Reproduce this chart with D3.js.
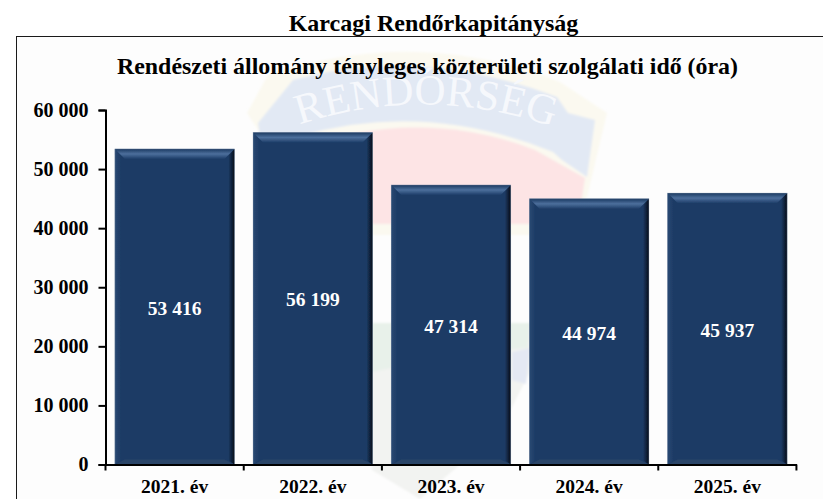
<!DOCTYPE html>
<meta charset="utf-8">
<style>
body { margin: 0; background: #fff; overflow: hidden; }
text { font-family: "Liberation Serif", serif; font-weight: bold; fill: #000; }
</style>
<body>
<svg id="chart" width="823" height="499"></svg>
<script src="https://cdn.jsdelivr.net/npm/d3@7"></script>
<script>

var years = ["2021. év", "2022. év", "2023. év", "2024. év", "2025. év"];
var hours = [53416, 56199, 47314, 44974, 45937];
var yTicks = [0, 10000, 20000, 30000, 40000, 50000, 60000];

var svg = d3.select("#chart");

var x = d3.scaleBand().domain(years).range([105.5, 796.5]).paddingInner(0.135).paddingOuter(0.068);
var y = d3.scaleLinear().domain([0, 60000]).range([464.5, 110]);

var fmt = function(d) { return String(d).replace(/\B(?=(\d{3})+$)/g, " "); };

var defs = svg.append("defs");
defs.append("filter").attr("id", "soft").append("feGaussianBlur").attr("stdDeviation", 0.45);
defs.append("filter").attr("id", "wmsoft").append("feGaussianBlur").attr("stdDeviation", 1.2);
defs.append("path").attr("id", "arc").attr("d", "M296 126 Q425 82 556 128");

var topGrad = defs.append("linearGradient").attr("id", "bevelTop").attr("x1", 0).attr("x2", 0).attr("y1", 0).attr("y2", 1);
topGrad.append("stop").attr("offset", 0).attr("stop-color", "#1b3960");
topGrad.append("stop").attr("offset", 0.5).attr("stop-color", "#4c6f9c");
topGrad.append("stop").attr("offset", 1).attr("stop-color", "#1f3e69");

var rightGrad = defs.append("linearGradient").attr("id", "bevelRight");
rightGrad.append("stop").attr("offset", 0).attr("stop-color", "#1d3b65");
rightGrad.append("stop").attr("offset", 1).attr("stop-color", "#050d18");

var leftGrad = defs.append("linearGradient").attr("id", "bevelLeft");
leftGrad.append("stop").attr("offset", 0).attr("stop-color", "#2a4973");
leftGrad.append("stop").attr("offset", 1).attr("stop-color", "#1d3b65");

// background panel
svg.append("rect").attr("x", 16.5).attr("y", 36.5).attr("width", 830).attr("height", 490)
    .attr("fill", "#fdfdfd").attr("stroke", "#1a1a1a").attr("stroke-width", 1);

// faint police badge behind the bars
var wm = svg.append("g").attr("filter", "url(#wmsoft)");
wm.append("path").attr("d", "M247 113 L268 75 Q420 25 560 82 L607 113 L587 197 L540 235 L372 235 L290 180 Z")
    .attr("fill", "#fbf9f0");
wm.append("path").attr("d", "M290 150 Q420 105 535 150 L585 178 L578 224 L300 224 Z")
    .attr("fill", "#fde4e5");
wm.append("path").attr("d", "M258 123 L293 80 Q420 45 557 97 L568 113 L595 120 L587 177 L562 160 L553 152 Q425 100 300 136 L262 150 Z")
    .attr("fill", "#e2e9f4");
wm.append("path").attr("d", "M372 323 L535 323 L530 372 L500 430 L420 499 L372 470 Z").attr("fill", "#f2f3f1");
wm.append("path").attr("d", "M372 323 L530 323 L528 348 L470 352 L372 372 Z").attr("fill", "#e8f1ea");
wm.append("path").attr("d", "M512 352 L530 348 L526 384 L512 380 Z").attr("fill", "#e4e8f3");
svg.append("text").style("font-size", "43px").style("font-weight", "normal").style("fill", "#f6f8fc")
    .append("textPath").attr("href", "#arc").attr("startOffset", "50%").attr("text-anchor", "middle")
    .text("RENDŐRSÉG");

// titles
svg.append("text").attr("x", 433.5).attr("y", 31).attr("text-anchor", "middle")
    .style("font-size", "24px").text("Karcagi Rendőrkapitányság");
svg.append("text").attr("x", 427.5).attr("y", 74).attr("text-anchor", "middle")
    .style("font-size", "23.9px").text("Rendészeti állomány tényleges közterületi szolgálati idő (óra)");

// bars with bevelled edges
var bars = svg.selectAll(".bar").data(hours).enter().append("g").attr("class", "bar")
    .attr("filter", "url(#soft)")
    .attr("transform", function(d, i) { return "translate(" + x(years[i]) + "," + y(d) + ")"; });

var bw = x.bandwidth();
var bevel = 10, side = 6;
var h = function(d) { return y(0) - y(d); };

bars.append("rect").attr("width", bw).attr("height", h).attr("fill", "#1d3b65");
bars.append("path").attr("d", function(d) { return "M0 0 L" + side + " " + side + " V" + (h(d) - 4) + " L0 " + h(d) + " Z"; })
    .attr("fill", "url(#bevelLeft)");
bars.append("path").attr("d", function(d) { return "M" + bw + " 0 L" + (bw - side) + " " + side + " V" + (h(d) - 4) + " L" + bw + " " + h(d) + " Z"; })
    .attr("fill", "url(#bevelRight)");
bars.append("path").attr("d", "M0 0 H" + bw + " L" + (bw - bevel) + " " + bevel + " H" + bevel + " Z")
    .attr("fill", "url(#bevelTop)");
bars.append("path").attr("d", function(d) { return "M0 " + h(d) + " H" + bw + " L" + (bw - bevel) + " " + (h(d) - 5) + " H" + bevel + " Z"; })
    .attr("fill", "#2a4468");
bars.append("rect").attr("width", bw).attr("height", h).attr("fill", "none").attr("stroke", "#8fa0b5").attr("stroke-width", 0.6).attr("stroke-opacity", 0.6);

// value labels sit a little under the middle of each bar
svg.selectAll(".val").data(hours).enter().append("text").attr("class", "val")
    .attr("x", function(d, i) { return x(years[i]) + bw / 2; })
    .attr("y", function(d) { return (y(d) + y(0)) / 2 + 8; })
    .attr("text-anchor", "middle")
    .style("font-size", "19.5px").style("fill", "#fff")
    .text(fmt);

// axes
var yAxis = svg.append("g").attr("transform", "translate(105.5,0)")
    .call(d3.axisLeft(y).tickValues(yTicks).tickFormat(fmt).tickSize(7).tickPadding(10));
var xAxis = svg.append("g").attr("transform", "translate(0,464.5)")
    .call(d3.axisBottom(x).tickSize(0).tickPadding(15));

xAxis.selectAll(".tick").append("line")
    .attr("x1", x.step() / 2).attr("x2", x.step() / 2).attr("y1", 0).attr("y2", 6)
    .attr("stroke", "#000").attr("stroke-width", 2);
xAxis.append("line").attr("x1", 105.5).attr("x2", 105.5).attr("y1", 0).attr("y2", 6)
    .attr("stroke", "#000").attr("stroke-width", 2);

svg.selectAll(".domain").attr("stroke", "#000").attr("stroke-width", 2);
yAxis.selectAll(".tick line").attr("stroke", "#000").attr("stroke-width", 2);
yAxis.selectAll("text").style("font-size", "20px").style("font-family", "Liberation Serif");
xAxis.selectAll("text").style("font-size", "19.5px").style("font-family", "Liberation Serif");

</script>
</body>
